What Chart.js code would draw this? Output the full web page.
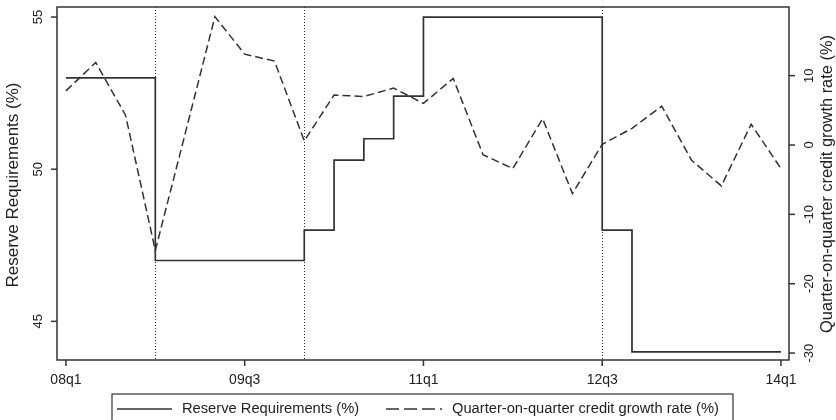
<!DOCTYPE html>
<html><head><meta charset="utf-8">
<script src="https://cdn.jsdelivr.net/npm/chart.js@4"></script>
<style>html,body{margin:0;padding:0;background:#fff}</style>
</head><body>
<canvas id="c" width="836" height="420"></canvas>
<script>
const quarters = ['08q1','08q2','08q3','08q4','09q1','09q2','09q3','09q4','10q1','10q2','10q3','10q4','11q1','11q2','11q3','11q4','12q1','12q2','12q3','12q4','13q1','13q2','13q3','13q4','14q1'];
const reserve = [53,53,53,47,47,47,47,47,48,50.3,51,52.4,55,55,55,55,55,55,48,44,44,44,44,44,44];
const credit = [7.8,11.9,4.3,-15.2,1.6,18.5,13.1,12.1,0.6,7.2,7.0,8.2,6.0,9.6,-1.4,-3.4,3.8,-7.0,0.1,2.4,5.6,-2.2,-5.9,3.0,-3.4];
const tickQuarters = ['08q1','09q3','11q1','12q3','14q1'];
const eventQuarters = ['08q4','10q1','12q3'];
const leftTicks = [45,50,55];
const rightTicks = [-30,-20,-10,0,10];
const leftTitle = 'Reserve Requirements (%)';
const rightTitle = 'Quarter-on-quarter credit growth rate (%)';

const FONT = '"Liberation Sans", Arial, sans-serif';
const INK = '#333';

const deco = {
  id: 'deco',
  beforeDatasetsDraw(chart) {
    const {ctx, chartArea: a, scales} = chart;
    ctx.save();
    ctx.strokeStyle = INK;
    ctx.lineWidth = 1;
    ctx.setLineDash([1, 2]);
    eventQuarters.forEach(q => {
      const x = Math.round(scales.x.getPixelForValue(quarters.indexOf(q))) + 0.5;
      ctx.beginPath(); ctx.moveTo(x, a.top); ctx.lineTo(x, a.bottom); ctx.stroke();
    });
    ctx.restore();
  },
  afterDatasetsDraw(chart) {
    const {ctx, chartArea: a, scales} = chart;
    ctx.save();
    ctx.strokeStyle = INK;
    ctx.lineWidth = 1.5;
    ctx.setLineDash([]);
    ctx.strokeRect(a.left, a.top, a.right - a.left, a.bottom - a.top);
    ctx.fillStyle = '#222';
    // x ticks
    ctx.font = '14px ' + FONT;
    ctx.textAlign = 'center'; ctx.textBaseline = 'middle';
    tickQuarters.forEach(q => {
      const x = scales.x.getPixelForValue(quarters.indexOf(q));
      ctx.beginPath(); ctx.moveTo(x, a.bottom); ctx.lineTo(x, a.bottom + 6); ctx.stroke();
      ctx.fillText(q, x, a.bottom + 20);
    });
    // left ticks
    ctx.font = '13px ' + FONT;
    leftTicks.forEach(v => {
      const y = scales.y.getPixelForValue(v);
      ctx.beginPath(); ctx.moveTo(a.left, y); ctx.lineTo(a.left - 6, y); ctx.stroke();
      ctx.save(); ctx.translate(a.left - 19, y); ctx.rotate(-Math.PI / 2);
      ctx.fillText(String(v), 0, 0); ctx.restore();
    });
    rightTicks.forEach(v => {
      const y = scales.y2.getPixelForValue(v);
      ctx.beginPath(); ctx.moveTo(a.right, y); ctx.lineTo(a.right + 6, y); ctx.stroke();
      ctx.save(); ctx.translate(a.right + 20, y); ctx.rotate(-Math.PI / 2);
      ctx.fillText(String(v), 0, 0); ctx.restore();
    });
    // titles
    ctx.font = '17px ' + FONT;
    ctx.save(); ctx.translate(13, 185); ctx.rotate(-Math.PI / 2);
    ctx.fillText(leftTitle, 0, 0); ctx.restore();
    ctx.font = '16.4px ' + FONT;
    ctx.save(); ctx.translate(827, 184); ctx.rotate(-Math.PI / 2);
    ctx.fillText(rightTitle, 0, 0); ctx.restore();
    // legend
    ctx.lineWidth = 1.2;
    ctx.strokeRect(112, 394, 621, 30);
    const ly = 409;
    ctx.lineWidth = 1.5;
    ctx.beginPath(); ctx.moveTo(117, ly); ctx.lineTo(172, ly); ctx.stroke();
    ctx.setLineDash([13, 5]);
    ctx.beginPath(); ctx.moveTo(386, ly); ctx.lineTo(442, ly); ctx.stroke();
    ctx.setLineDash([]);
    ctx.font = '14.7px ' + FONT;
    ctx.textAlign = 'left';
    ctx.fillText(chart.data.datasets[0].label, 182, ly);
    ctx.fillText(chart.data.datasets[1].label, 452, ly);
    ctx.restore();
  }
};

new Chart(document.getElementById('c'), {
  type: 'line',
  data: {
    datasets: [
      {
        label: 'Reserve Requirements (%)',
        data: quarters.map((q, i) => ({x: i, y: reserve[i]})),
        yAxisID: 'y', stepped: true,
        borderColor: INK, borderWidth: 1.7, pointRadius: 0, fill: false
      },
      {
        label: 'Quarter-on-quarter credit growth rate (%)',
        data: quarters.map((q, i) => ({x: i, y: credit[i]})),
        yAxisID: 'y2', borderColor: INK, borderWidth: 1.5, borderDash: [8, 4],
        pointRadius: 0, tension: 0, fill: false
      }
    ]
  },
  options: {
    responsive: false, animation: false,
    layout: {padding: {top: 7, left: 0, right: 0, bottom: 0}},
    plugins: {legend: {display: false}, tooltip: {enabled: false}},
    scales: {
      x: {type: 'linear', min: -0.3, max: 24.27, grid: {display: false}, border: {display: false}, ticks: {display: false}, afterFit(s) { s.height = 60; }},
      y: {position: 'left', min: 43.73, max: 55.33, grid: {display: false}, border: {display: false}, ticks: {display: false}, afterFit(s) { s.width = 57; }},
      y2: {position: 'right', min: -31.0, max: 19.9, grid: {display: false}, border: {display: false}, ticks: {display: false}, afterFit(s) { s.width = 47; }}
    }
  },
  plugins: [deco]
});
</script>
</body></html>
